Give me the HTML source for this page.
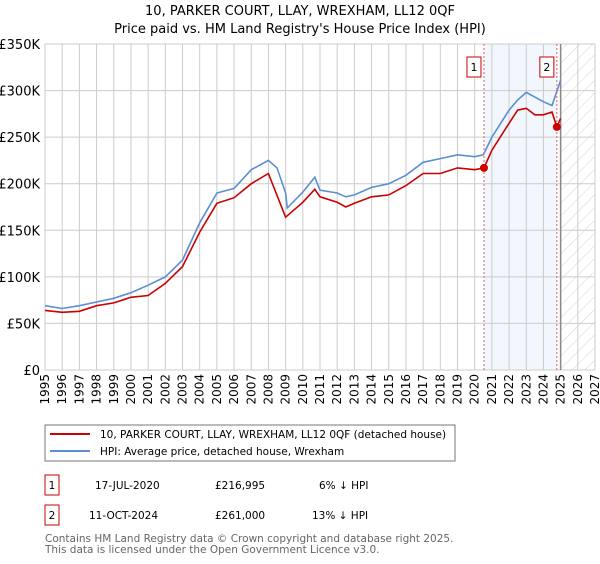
<!DOCTYPE html>
<html><head><meta charset="utf-8"><style>
body{margin:0;background:#fff;font-family:"DejaVu Sans","Liberation Sans",sans-serif;}
svg text{font-family:"DejaVu Sans","Liberation Sans",sans-serif;}
</style></head><body>
<svg id="c" width="600" height="560" xmlns="http://www.w3.org/2000/svg">
<defs><pattern id="hatch" width="9" height="9" patternUnits="userSpaceOnUse" patternTransform="rotate(45)"><line x1="0" y1="0" x2="0" y2="9" stroke="#d4d4d4" stroke-width="1"/></pattern></defs>
<text x="300" y="15" text-anchor="middle" font-size="13" fill="#000">10, PARKER COURT, LLAY, WREXHAM, LL12 0QF</text>
<text x="300" y="33" text-anchor="middle" font-size="13" fill="#000">Price paid vs. HM Land Registry's House Price Index (HPI)</text>
<g id="plot"></g>
<rect x="45" y="425" width="410" height="36" fill="#fff" stroke="#777"/>
<line x1="50" y1="434" x2="90" y2="434" stroke="#cc0000" stroke-width="2"/>
<text x="100" y="438" font-size="10.5">10, PARKER COURT, LLAY, WREXHAM, LL12 0QF (detached house)</text>
<line x1="50" y1="451" x2="90" y2="451" stroke="#5b8fd0" stroke-width="2"/>
<text x="100" y="455" font-size="10.5">HPI: Average price, detached house, Wrexham</text>
<g font-size="10.5">
<rect x="45" y="475" width="14" height="20" fill="#fff" stroke="#cc0000"/>
<text x="52" y="489" text-anchor="middle">1</text>
<text x="95" y="489">17-JUL-2020</text>
<text x="215" y="489">£216,995</text>
<text x="319" y="489">6% ↓ HPI</text>
<rect x="45" y="505" width="14" height="20" fill="#fff" stroke="#cc0000"/>
<text x="52" y="519" text-anchor="middle">2</text>
<text x="89" y="519">11-OCT-2024</text>
<text x="215" y="519">£261,000</text>
<text x="312" y="519">13% ↓ HPI</text>
</g>
<text x="45" y="542" font-size="10.5" fill="#666">Contains HM Land Registry data © Crown copyright and database right 2025.</text>
<text x="45" y="553" font-size="10.5" fill="#666">This data is licensed under the Open Government Licence v3.0.</text>
</svg>
<script>
const hpiYears=[1995,1996,1997,1998,1999,2000,2001,2002,2003,2004,2005,2006,2007,2008,2008.5,2009,2009.1,2010,2010.7,2011,2012,2012.5,2013,2014,2015,2016,2017,2018,2019,2020,2020.5,2021,2022,2022.5,2023,2023.5,2024,2024.5,2025];
const hpiValues=[69,66,69,73,77,83,91,100,118,158,190,195,215,225,217,190,174,191,207,193,190,186,188,196,200,209,223,227,231,229,231,250,279,290,298,293,288,284,311];
const priceYears=[1995,1996,1997,1998,1999,2000,2001,2002,2003,2004,2005,2006,2007,2008,2009,2010,2010.7,2011,2012,2012.5,2013,2014,2015,2016,2017,2018,2019,2020,2020.54,2021,2022,2022.5,2023,2023.5,2024,2024.5,2024.78,2025];
const priceValues=[64,62,63,69,72,78,80,93,111,148,179,185,200,211,164,180,194,186,180,175,179,186,188,198,211,211,217,215,217,236,265,279,281,274,274,277,261,270];
const saleYears=[2020.54,2024.78];
const saleValues=[216.995,261];
const yTicks=[0,50,100,150,200,250,300,350];
const yTickLabels=["£0","£50K","£100K","£150K","£200K","£250K","£300K","£350K"];
const xTicks=[1995,1996,1997,1998,1999,2000,2001,2002,2003,2004,2005,2006,2007,2008,2009,2010,2011,2012,2013,2014,2015,2016,2017,2018,2019,2020,2021,2022,2023,2024,2025,2026,2027];

const X0=45,X1=595,Y0=370,Y1=44;
const xs=y=>X0+(y-1995)/(2027-1995)*(X1-X0);
const ys=v=>Y0-v/350*(Y0-Y1);
const NS="http://www.w3.org/2000/svg";
const g=document.getElementById('plot');
function mk(t,a){const e=document.createElementNS(NS,t);for(const k in a)e.setAttribute(k,a[k]);g.appendChild(e);return e;}

let r=mk('rect',{x:xs(2020.54),y:Y1,width:xs(2024.78)-xs(2020.54),height:Y0-Y1,fill:'#f2f6fd'});


r=mk('rect',{x:xs(2025),y:Y1,width:X1-xs(2025),height:Y0-Y1,fill:'url(#hatch)'});



yTicks.forEach((v,i)=>{
  const l=mk('line',{x1:X0,x2:X1,y1:ys(v),y2:ys(v),stroke:'#ccc'});
  
  
  const t=mk('text',{x:40,y:ys(v)+5,'text-anchor':'end','font-size':13});
  
  
  t.textContent=yTickLabels[i];
});
xTicks.forEach(y=>{
  const l=mk('line',{x1:xs(y),x2:xs(y),y1:Y1,y2:Y0,stroke:'#ccc'});
  
  
  const t=mk('text',{x:0,y:0,'text-anchor':'end','font-size':12,transform:`translate(${xs(y)+4},${Y0+4}) rotate(-90)`});
  
  
  t.textContent=y;
});
let vl=mk('line',{x1:xs(2025),x2:xs(2025),y1:Y1,y2:Y0,stroke:'#888','stroke-width':1.5});



function path(xa,va,col,name){
  const d=xa.map((x,i)=>(i?'L':'M')+xs(x).toFixed(1)+','+ys(va[i]).toFixed(1)).join('');
  const p=mk('path',{d:d,fill:'none',stroke:col,'stroke-width':1.6});
  
  
}
path(hpiYears,hpiValues,'#5b8fd0','hpi-line');
path(priceYears,priceValues,'#cc0000','price-line');

saleYears.forEach((y,i)=>{
  const l=mk('line',{x1:xs(y),x2:xs(y),y1:Y1,y2:Y0,stroke:'#e06060','stroke-dasharray':'2,2'});
  
  
  const c=mk('circle',{cx:xs(y),cy:ys(saleValues[i]),r:4,fill:'#cc0000'});
  
  
  const b=mk('rect',{x:xs(y)-17,y:57,width:14,height:20,fill:'#fff',stroke:'#cc0000'});
  
  
  const t=mk('text',{x:xs(y)-10,y:71,'text-anchor':'middle','font-size':11});
  
  
  t.textContent=i+1;
});
</script>
</body></html>
